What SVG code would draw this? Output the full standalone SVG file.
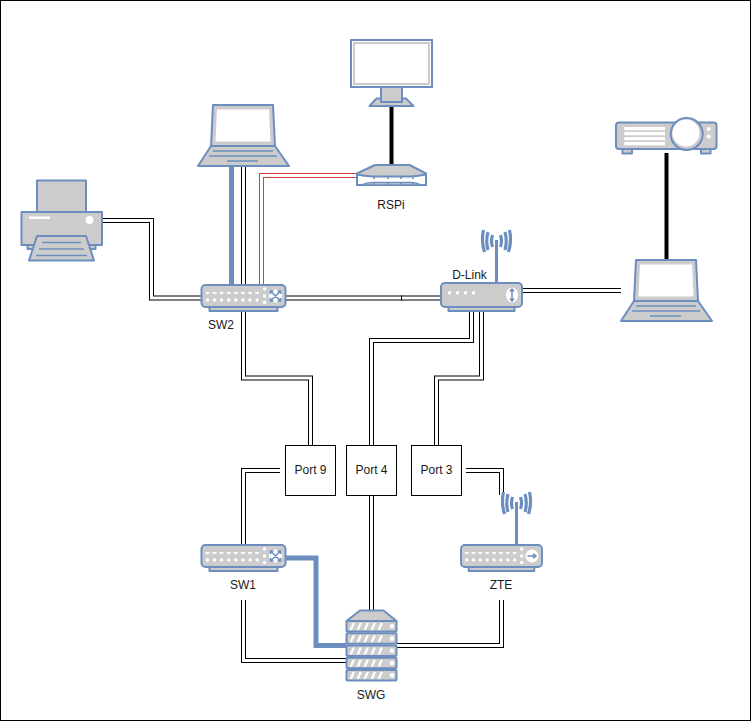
<svg xmlns="http://www.w3.org/2000/svg" width="751" height="721" viewBox="0 0 751 721">
<style>
text{font-family:"Liberation Sans",Arial,sans-serif;font-size:12px;fill:#1a1a1a;text-anchor:middle}
.o{fill:none;stroke:#000;stroke-width:5}
.i{fill:none;stroke:#fff;stroke-width:3}
.ro{fill:none;stroke:#d94040;stroke-width:5}
.thick{fill:none;stroke:#6c8ebf;stroke-width:5}
.blk{fill:none;stroke:#000;stroke-width:4}
.g{fill:#ccc;stroke:#6c8ebf;stroke-width:2;stroke-linejoin:round}
.w{fill:#fff;stroke:none}
.scr{fill:#fff;stroke:#ccc;stroke-width:2}
.l{fill:none;stroke:#6c8ebf;stroke-width:1.500}
.wave{fill:none;stroke:#6c8ebf;stroke-width:3.200}
.mast{fill:none;stroke:#6c8ebf;stroke-width:3}
.box{fill:#fff;stroke:#000;stroke-width:1}
</style>
<defs>
<g id="laptop">
<path class="g" d="M15 0H75L77 41H13Z" fill="#ccc"/>
<path class="scr" d="M18 3.500H72L73.500 37.500H16.500Z"/>
<path class="g" d="M13 41H77L91 61H0Z"/>
<path class="l" d="M15 46H75M11 51H79M29 56H60"/>
</g>
<g id="sw">
<path class="g" d="M8 22H76V26H8Z"/>
<rect class="g" x="0" y="0" width="84" height="22" rx="4"/>
<g class="w">
<path d="M4 7h4v1.500h-1l-1 1l-1-1h-1zM11 7h4v1.500h-1l-1 1l-1-1h-1zM18 7h4v1.500h-1l-1 1l-1-1h-1zM25.200 7h4v1.500h-1l-1 1l-1-1h-1zM32.300 7h4v1.500h-1l-1 1l-1-1h-1zM39.400 7h4v1.500h-1l-1 1l-1-1h-1zM46.500 7h4v1.500h-1l-1 1l-1-1h-1zM53.600 7h4v1.500h-1l-1 1l-1-1h-1z"/>
<circle cx="6" cy="15" r="1.700"/><circle cx="13" cy="15" r="1.700"/><circle cx="20" cy="15" r="1.700"/><circle cx="27.200" cy="15" r="1.700"/><circle cx="34.300" cy="15" r="1.700"/><circle cx="41.400" cy="15" r="1.700"/><circle cx="48.500" cy="15" r="1.700"/><circle cx="55.600" cy="15" r="1.700"/>
<circle cx="63" cy="4" r="1.700"/><circle cx="63" cy="11" r="1.700"/><circle cx="63" cy="17.500" r="1.700"/>
</g>
</g>
<g id="x">
<circle class="w" cx="0" cy="0" r="6.500"/>
<path class="l" d="M-5 -5L5 5M5 -5L-5 5M-5 -2V-5H-2M5 -2V-5H2M-5 2V5H-2M5 2V5H2"/>
</g>
<g id="ant">
<path class="mast" d="M0 0V-43"/>
<path class="wave" d="M-4 -48Q-6 -42 -4 -36M4 -48Q6 -42 4 -36M-8.500 -51Q-11 -42 -8.500 -33M8.500 -51Q11 -42 8.500 -33M-13 -53Q-15.500 -42 -12 -31M13 -53Q15.500 -42 12 -31"/>
</g>
<g id="layer">
<rect class="g" x="0" y="0" width="50" height="10.500" rx="1"/>
<path class="w" d="M3 9L6 2H8.500L5.500 9ZM10 9L13 2H15.500L12.500 9ZM17 9L20 2H22.500L19.500 9ZM24 9L27 2H29.500L26.500 9ZM31 9L34 2H36.500L33.500 9Z"/>
<circle class="w" cx="45.500" cy="5.300" r="2.300"/>
</g>
</defs>
<rect x="0.500" y="0.500" width="750" height="720" fill="#fff" stroke="#000" stroke-width="1"/>
<g id="connectors">
<path class="thick" d="M231.500 166V285"/>
<path class="o" d="M243.500 166V285"/><path class="i" d="M243.500 166V285"/>
<path class="ro" d="M261.500 285V175.500H357"/><path class="i" d="M261.500 285V175.500H357"/>
<path class="o" d="M102 220.500H151.500V298H201"/><path class="i" d="M102 220.500H151.500V298H201"/>
<path class="o" d="M286 298H441"/><path class="i" d="M286 298H441"/>
<path d="M401.500 295.500V300.500" stroke="#000" fill="none"/>
<path class="o" d="M243.500 311V378H310.500V445"/><path class="i" d="M243.500 311V378H310.500V445"/>
<path class="o" d="M471.500 311V340.500H371.500V445"/><path class="i" d="M471.500 311V340.500H371.500V445"/>
<path class="o" d="M481.500 311V378H436.500V445"/><path class="i" d="M481.500 311V378H436.500V445"/>
<path class="o" d="M522 290.500H621"/><path class="i" d="M522 290.500H621"/>
<path class="o" d="M280 470.500H243.500V545"/><path class="i" d="M280 470.500H243.500V545"/>
<path class="o" d="M466 470.500H501.500V495"/><path class="i" d="M466 470.500H501.500V495"/>
<path class="o" d="M371.500 495V610"/><path class="i" d="M371.500 495V610"/>
<path class="o" d="M243.500 600V660.500H346"/><path class="i" d="M243.500 600V660.500H346"/>
<path class="o" d="M501.500 600V645.500H397"/><path class="i" d="M501.500 600V645.500H397"/>
<path class="thick" d="M286 558H316V645.500H346"/>
<path class="blk" d="M391.500 106V165"/>
<path class="blk" d="M666.500 153V260"/>
</g>
<g id="printer">
<rect class="g" x="37" y="180.500" width="49" height="32"/>
<rect class="g" x="27.500" y="244" width="68" height="5"/>
<rect class="g" x="21.500" y="212" width="80.500" height="33"/>
<rect class="w" x="29" y="216.500" width="21" height="2.500"/>
<circle class="w" cx="89.500" cy="220" r="4"/>
<path class="g" d="M37 236H86L94 260.500H29Z"/>
<path class="l" d="M42 242.500H81M39 249H84M36 255.500H87"/>
</g>
<g id="laptop-1"><use href="#laptop" x="198" y="105"/></g>
<g id="monitor">
<path class="g" d="M369.500 106L376.500 98.500H406L413.500 106Z"/>
<rect class="g" x="381" y="86" width="21" height="16"/>
<rect x="351" y="40" width="81" height="47" fill="#fff" stroke="#6c8ebf" stroke-width="2"/>
<rect x="354" y="43" width="75" height="41" fill="#fff" stroke="#ccc" stroke-width="2"/>
</g>
<g id="rspi">
<rect x="357" y="174" width="69" height="11" fill="#fff" stroke="#6c8ebf" stroke-width="2"/>
<path class="g" d="M375 165H409.500L426 173.500V174.500Q419 176 410 176.500H373Q364 176 357 174.500V173.500Z"/>
<path class="g" style="stroke-width:1.500" d="M362 185Q366 182.500 372 182.500H411Q417 182.500 421 185Z"/>
<path class="l" d="M374 176V179M388 176V179M401 176V179M413 176V179M374 182.500V185M388 182.500V185M401 182.500V185M413 182.500V185"/>
<text x="391" y="208.500">RSPi</text>
</g>
<g id="sw2">
<use href="#sw" x="201.500" y="285"/>
<use href="#x" x="275.500" y="296"/>
<text x="221" y="329">SW2</text>
</g>
<g id="dlink">
<use href="#ant" x="496.500" y="283"/>
<path class="g" d="M448.500 307H514.500V311H448.500Z"/>
<rect class="g" x="441" y="283" width="81" height="24" rx="4"/>
<g class="w"><circle cx="449.500" cy="292.700" r="1.700"/><circle cx="457.500" cy="292.700" r="1.700"/><circle cx="465.500" cy="292.700" r="1.700"/><circle cx="473.500" cy="292.700" r="1.700"/></g>
<ellipse class="w" cx="512" cy="295" rx="6" ry="7.500"/>
<path d="M512 289.500V300.500M510 291.500L512 289L514 291.500M510 298.500L512 301L514 298.500" fill="none" stroke="#6c8ebf" stroke-width="1.500"/>
<text x="469.500" y="279">D-Link</text>
</g>
<g id="projector">
<rect class="g" x="622.500" y="148" width="9.500" height="5.500"/>
<rect class="g" x="701" y="148" width="9.500" height="5.500"/>
<rect class="g" x="616" y="122.500" width="100.500" height="26.500" rx="3"/>
<g class="w"><rect x="624.300" y="127" width="40.700" height="3.300"/><rect x="624.300" y="132" width="40.700" height="3.300"/><rect x="624.300" y="137" width="40.700" height="3.300"/><rect x="624.300" y="142" width="40.700" height="3.300"/>
<circle cx="708.700" cy="129" r="2"/><circle cx="708.700" cy="136.500" r="2"/></g>
<circle cx="686.700" cy="134" r="16" fill="#ccc" stroke="#6c8ebf" stroke-width="2"/>
<circle class="w" cx="686" cy="133" r="13.500"/>
</g>
<g id="laptop-2"><use href="#laptop" x="621" y="260"/></g>
<g id="port9"><rect class="box" x="285.500" y="445.500" width="50" height="50"/><text x="310.500" y="474">Port 9</text></g>
<g id="port4"><rect class="box" x="346.500" y="445.500" width="50" height="50"/><text x="371.500" y="474">Port 4</text></g>
<g id="port3"><rect class="box" x="411.500" y="445.500" width="50" height="50"/><text x="436.500" y="474">Port 3</text></g>
<g id="sw1">
<use href="#sw" x="201.500" y="545"/>
<use href="#x" x="275.500" y="556"/>
<text x="243" y="589">SW1</text>
</g>
<g id="zte">
<use href="#ant" x="516.500" y="545"/>
<use href="#sw" transform="translate(461 545) scale(0.964 1)"/>
<circle class="w" cx="532" cy="556" r="6.500"/>
<path d="M527.500 556H535M533 553.800L536 556L533 558.200" fill="none" stroke="#6c8ebf" stroke-width="1.500"/>
<text x="501" y="589">ZTE</text>
</g>
<g id="swg">
<path class="g" d="M346.500 621L360 610.500H383.500L396.500 621Z"/>
<use href="#layer" x="346.500" y="621"/>
<use href="#layer" x="346.500" y="633.300"/>
<use href="#layer" x="346.500" y="645.500"/>
<use href="#layer" x="346.500" y="657.800"/>
<use href="#layer" x="346.500" y="670"/>
<text x="371" y="699">SWG</text>
</g>
</svg>
